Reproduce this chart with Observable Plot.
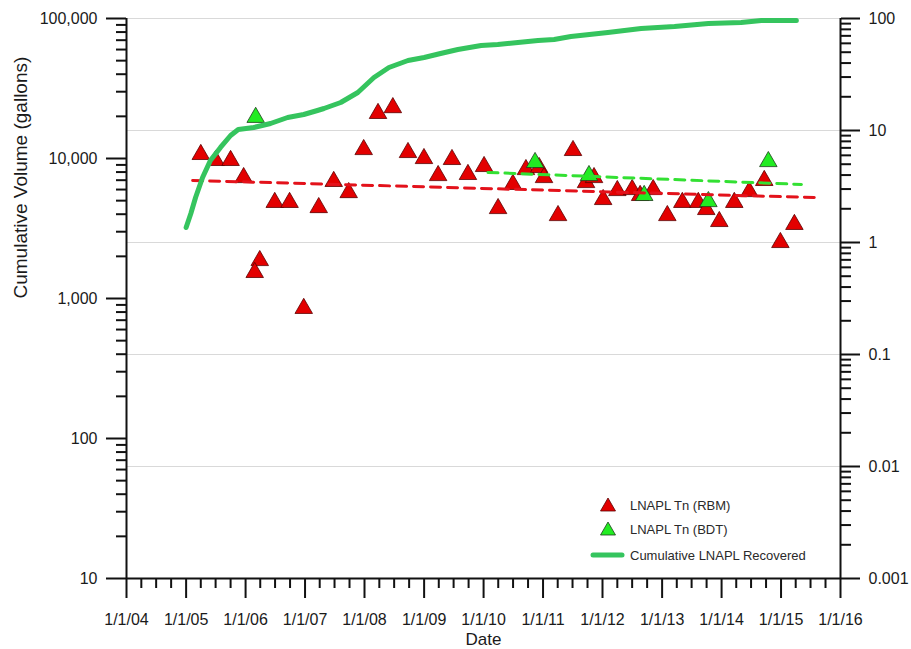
<!DOCTYPE html>
<html>
<head>
<meta charset="utf-8">
<script src="https://cdn.jsdelivr.net/npm/d3@7"></script>
<script src="https://cdn.jsdelivr.net/npm/@observablehq/plot@0.6"></script>
<style>
  body { margin: 0; background: #fff; font-family: "Liberation Sans", Arial, sans-serif; }
  #wrap { position: relative; width: 911px; height: 649px; }
  #wrap > svg { position: absolute; left: 0; top: 0; }
  #legend { position: absolute; left: 0; top: 0; pointer-events: none; }
</style>
</head>
<body>
<div id="wrap"></div>
<script>
// ---- data ----
// Cumulative LNAPL recovered (gallons, left axis)
const recoveredDates = ["2005-01-01","2005-01-30","2005-02-28","2005-04-12","2005-05-30","2005-07-31","2005-10-01","2005-11-17","2006-02-20","2006-06-03","2006-09-16","2006-12-24","2007-03-18","2007-04-27","2007-08-08","2007-11-21","2008-02-28","2008-05-30","2008-09-24","2009-01-01","2009-04-12","2009-07-27","2009-12-17","2010-03-29","2010-07-31","2010-12-01","2011-03-10","2011-06-21","2012-02-03","2012-08-25","2013-03-18","2013-10-12","2014-05-01","2014-09-02","2015-04-05"];
const recoveredGallons = [3214,4048,5265,7315,9676,11990,14600,16110,16650,17780,19630,20620,22020,22760,25120,29610,37900,44670,50120,52640,56230,60080,64150,65200,67400,69630,70790,74360,79430,84830,87620,92040,93550,96730,96730];

// LNAPL Tn (RBM) - right axis units
const rbmDates = ["2005-04-01","2005-07-01","2005-10-01","2005-12-20","2006-03-29","2006-02-26","2006-06-29","2006-09-28","2006-12-24","2007-03-26","2007-06-26","2007-09-26","2007-12-27","2008-03-24","2008-06-23","2008-09-24","2008-12-31","2009-03-28","2009-06-21","2009-09-27","2010-01-04","2010-03-31","2010-06-30","2010-09-18","2010-12-08","2011-01-07","2011-04-03","2011-07-04","2011-09-22","2011-11-10","2012-01-05","2012-04-01","2012-07-01","2012-08-19","2012-11-07","2013-02-02","2013-05-05","2013-08-11","2013-09-29","2013-12-18","2014-03-20","2014-06-20","2014-09-20","2014-12-28","2015-03-24"];
const rbmTn = [6.11,5.40,5.40,3.80,0.690,0.540,2.28,2.28,0.258,2.05,3.51,2.79,6.76,14.2,16.0,6.36,5.62,3.96,5.51,4.05,4.77,2.01,3.30,4.48,4.67,3.80,1.74,6.63,3.43,3.80,2.42,2.91,2.97,2.63,2.97,1.74,2.28,2.28,1.97,1.54,2.28,2.85,3.58,1.00,1.45];

// LNAPL Tn (BDT) - right axis units
const bdtDates = ["2006-03-04","2010-11-13","2011-10-10","2012-09-13","2013-10-12","2014-10-15"];
const bdtTn = [13.1,5.18,3.96,2.63,2.32,5.28];

// Trend lines (right axis units)
const rbmTrendDates = ["2005-02-10","2015-07-24"];
const rbmTrendTn = [3.58,2.52];
const bdtTrendDates = ["2010-01-28","2015-05-06"];
const bdtTrendTn = [4.22,3.30];

// Axis ticks
const leftTicks = [10,100,1000,10000,100000];
const rightTicks = [0.001,0.01,0.1,1,10,100];
const rightLabels = ["0.001","0.01","0.1","1","10","100"];
const tickYears = [2004,2005,2006,2007,2008,2009,2010,2011,2012,2013,2014,2015,2016];

const legendItems = ["LNAPL Tn (RBM)","LNAPL Tn (BDT)","Cumulative LNAPL Recovered"];

// ---- helpers ----
// right axis (0.001..100, 5 decades) shares the frame with left axis (10..100000, 4 decades)
const toGal = r => 10 * Math.pow(1000 * r, 0.8);
const parse = d3.utcParse("%Y-%m-%d");

const recovered = recoveredDates.map((d, i) => ({date: parse(d), v: recoveredGallons[i]}));
const rbm = rbmDates.map((d, i) => ({date: parse(d), v: toGal(rbmTn[i])}));
const bdt = bdtDates.map((d, i) => ({date: parse(d), v: toGal(bdtTn[i])}));
const rbmTrend = rbmTrendDates.map((d, i) => ({date: parse(d), v: toGal(rbmTrendTn[i])}));
const bdtTrend = bdtTrendDates.map((d, i) => ({date: parse(d), v: toGal(bdtTrendTn[i])}));

const minorLeft = [];
leftTicks.slice(0, -1).forEach(dec => { for (let k = 2; k <= 9; k++) minorLeft.push(k * dec); });
const minorRight = [];
rightTicks.slice(0, -1).forEach(dec => { for (let k = 2; k <= 9; k++) minorRight.push(toGal(k * dec)); });

const yearDates = tickYears.map(y => new Date(Date.UTC(y, 0, 1)));
const endDate = yearDates[yearDates.length - 1];
const quarterDates = d3.utcMonth.every(3).range(yearDates[0], endDate)
  .filter(d => d.getUTCMonth() !== 0);

const rightLabelData = rightTicks.map((r, i) => ({date: endDate, v: toGal(r), label: rightLabels[i]}));

const red = "#e30000";
const green = "#22ec22";
const curveGreen = "#35c45e";

const chart = Plot.plot({
  width: 911,
  height: 649,
  marginTop: 18,
  marginRight: 71,
  marginBottom: 71,
  marginLeft: 126,
  style: {fontFamily: "'Liberation Sans', Arial, sans-serif", fontSize: "16px", color: "#1a1a1a", background: "white", overflow: "visible"},
  x: {type: "utc", domain: [yearDates[0], endDate], axis: null},
  y: {type: "log", domain: [10, 100000], axis: null},
  marks: [
    Plot.ruleY(rightTicks.slice(1).map(toGal), {stroke: "#d9d9d9", strokeWidth: 1}),
    Plot.axisY(leftTicks, {anchor: "left", tickSize: 20, tickPadding: 9, strokeWidth: 2, stroke: "#111", tickFormat: d3.format(","), label: null}),
    Plot.axisY(minorLeft, {anchor: "left", tickSize: 10, strokeWidth: 2, stroke: "#111", fill: "none", label: null}),
    Plot.axisY(rightTicks.map(toGal), {anchor: "right", tickSize: 19, strokeWidth: 2, stroke: "#111", fill: "none", label: null}),
    Plot.axisY(minorRight, {anchor: "right", tickSize: 10, strokeWidth: 2, stroke: "#111", fill: "none", label: null}),
    Plot.text(rightLabelData, {x: "date", y: "v", text: "label", dx: 28, textAnchor: "start", fontSize: 16, fill: "#1a1a1a"}),
    Plot.axisX(yearDates, {anchor: "bottom", tickSize: 20, tickPadding: 15, strokeWidth: 2, stroke: "#111", tickFormat: d3.utcFormat("%-m/%-d/%y"), label: null}),
    Plot.axisX(quarterDates, {anchor: "bottom", tickSize: 10, strokeWidth: 2, stroke: "#111", fill: "none", label: null}),
    Plot.ruleX([yearDates[0], endDate], {stroke: "#111", strokeWidth: 2}),
    Plot.ruleY([10], {stroke: "#111", strokeWidth: 2}),
    Plot.dot(rbm, {x: "date", y: "v", symbol: "triangle", r: 6.5, fill: red, stroke: "#5a0000", strokeWidth: 0.8}),
    Plot.dot(bdt, {x: "date", y: "v", symbol: "triangle", r: 6.5, fill: green, stroke: "#1d3d1d", strokeWidth: 0.8}),
    Plot.line(rbmTrend, {x: "date", y: "v", stroke: "#e3121b", strokeWidth: 3, strokeDasharray: "10,7"}),
    Plot.line(bdtTrend, {x: "date", y: "v", stroke: "#33e033", strokeWidth: 3, strokeDasharray: "10,7"}),
    Plot.line(recovered, {x: "date", y: "v", stroke: curveGreen, strokeWidth: 5, strokeLinejoin: "round", strokeLinecap: "round"}),
    Plot.text(["Cumulative Volume (gallons)"], {frameAnchor: "left", rotate: -90, dx: -106, fontSize: 19, lineAnchor: "middle", fill: "#1a1a1a"}),
    Plot.text(["Date"], {frameAnchor: "bottom", dy: 61, fontSize: 17, lineAnchor: "middle", fill: "#1a1a1a"})
  ]
});

const wrap = document.getElementById("wrap");
wrap.appendChild(chart);

// legend (inside plot area, lower right)
const ns = "http://www.w3.org/2000/svg";
const lg = document.createElementNS(ns, "svg");
lg.setAttribute("id", "legend");
lg.setAttribute("width", 911);
lg.setAttribute("height", 649);
lg.setAttribute("font-family", "'Liberation Sans', Arial, sans-serif");
lg.setAttribute("font-size", "13");
const rowsY = [505, 529, 555];
const mk = (tag, attrs) => { const e = document.createElementNS(ns, tag); for (const k in attrs) e.setAttribute(k, attrs[k]); lg.appendChild(e); return e; };
mk("path", {d: `M600.5,${rowsY[0]+6}L615.5,${rowsY[0]+6}L608,${rowsY[0]-7}Z`, fill: red, stroke: "#5a0000", "stroke-width": 0.8});
mk("path", {d: `M600.5,${rowsY[1]+6}L615.5,${rowsY[1]+6}L608,${rowsY[1]-7}Z`, fill: green, stroke: "#1d3d1d", "stroke-width": 0.8});
mk("line", {x1: 593, x2: 622, y1: rowsY[2], y2: rowsY[2], stroke: curveGreen, "stroke-width": 5, "stroke-linecap": "round"});
legendItems.forEach((t, i) => {
  const e = mk("text", {x: 630, y: rowsY[i], "dominant-baseline": "central", fill: "#2a2a2a"});
  e.textContent = t;
});
wrap.appendChild(lg);
</script>
</body>
</html>
